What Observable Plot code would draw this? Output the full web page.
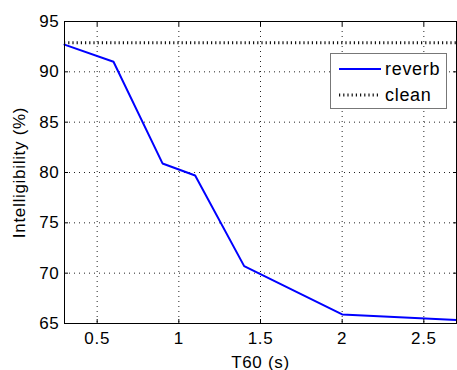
<!DOCTYPE html>
<html>
<head>
<meta charset="utf-8">
<script src="https://cdn.jsdelivr.net/npm/d3@7"></script>
<script src="https://cdn.jsdelivr.net/npm/@observablehq/plot@0.6"></script>
<style>
  body { margin: 0; background: #fff; }
  #wrap { position: relative; width: 457px; height: 370px; }
  #legend {
    position: absolute; left: 330px; top: 53px; width: 115px; height: 54px;
    border: 1px solid #777; background: #fff; color: #000;
    font-family: "Liberation Sans", Arial, sans-serif; font-size: 18px; letter-spacing: 0.7px;
  }
  .row { position: absolute; left: 8px; height: 20px; display: flex; align-items: center; }
  .row svg { margin-right: 4px; }
  svg text { fill: #000; }
</style>
</head>
<body>
<div id="wrap"></div>
<script>
const t60 = [0.3, 0.6, 0.9, 1.1, 1.4, 2.0, 2.7];
const reverb = [92.7, 91.0, 80.9, 79.7, 70.7, 65.9, 65.35];
const cleanLevel = 92.9;
const xTicks = [0.5, 1, 1.5, 2, 2.5];
const yTicks = [65, 70, 75, 80, 85, 90, 95];
const seriesNames = ["reverb", "clean"];

const data = t60.map((t, i) => ({t, v: reverb[i]}));
const font = "font-family:'Liberation Sans',Arial,sans-serif;font-size:17px;letter-spacing:0.7px;";

const chart = Plot.plot({
  width: 457, height: 370,
  marginTop: 21, marginRight: 1, marginBottom: 47, marginLeft: 64,
  style: font + "background:#fff;color:#000;",
  x: {domain: [0.3, 2.7]},
  y: {domain: [65, 95]},
  marks: [
    Plot.gridX(xTicks, {stroke: "#222", strokeOpacity: 1, strokeDasharray: "1,4"}),
    Plot.gridY(yTicks.filter(d => d > 65 && d < 95), {stroke: "#222", strokeOpacity: 1, strokeDasharray: "1,4"}),
    Plot.ruleY([cleanLevel], {stroke: "#111", strokeWidth: 3, strokeDasharray: "1.2,3"}),
    Plot.line(data, {x: "t", y: "v", stroke: "#0000ff", strokeWidth: 2}),
    Plot.axisX(xTicks, {anchor: "bottom", tickSize: 0, tickPadding: 8, tickFormat: d => String(d), label: "T60 (s)", labelAnchor: "center", labelArrow: "none", labelOffset: 44}),
    Plot.axisY(yTicks, {anchor: "left", tickSize: 0, tickPadding: 5, tickFormat: d => String(d), label: "Intelligibility (%)", labelAnchor: "center", labelArrow: "none", labelOffset: 52}),
    Plot.axisX(xTicks, {anchor: "bottom", tickSize: -4, tickFormat: () => "", label: null}),
    Plot.axisX(xTicks, {anchor: "top", tickSize: -4, tickFormat: () => "", label: null}),
    Plot.axisY(yTicks, {anchor: "left", tickSize: -4, tickFormat: () => "", label: null}),
    Plot.axisY(yTicks, {anchor: "right", tickSize: -4, tickFormat: () => "", label: null}),
    Plot.frame({stroke: "#000", strokeWidth: 1})
  ]
});

const wrap = document.getElementById("wrap");
wrap.appendChild(chart);

const legend = document.createElement("div");
legend.id = "legend";
legend.innerHTML = `
  <div class="row" style="top:5px"><svg width="42" height="6"><line x1="0" x2="42" y1="3" y2="3" stroke="#0000ff" stroke-width="2"/></svg><span>${seriesNames[0]}</span></div>
  <div class="row" style="top:31px"><svg width="42" height="6"><line x1="0" x2="42" y1="3" y2="3" stroke="#111" stroke-width="3" stroke-dasharray="1.2,3"/></svg><span>${seriesNames[1]}</span></div>`;
wrap.appendChild(legend);
</script>
</body>
</html>
